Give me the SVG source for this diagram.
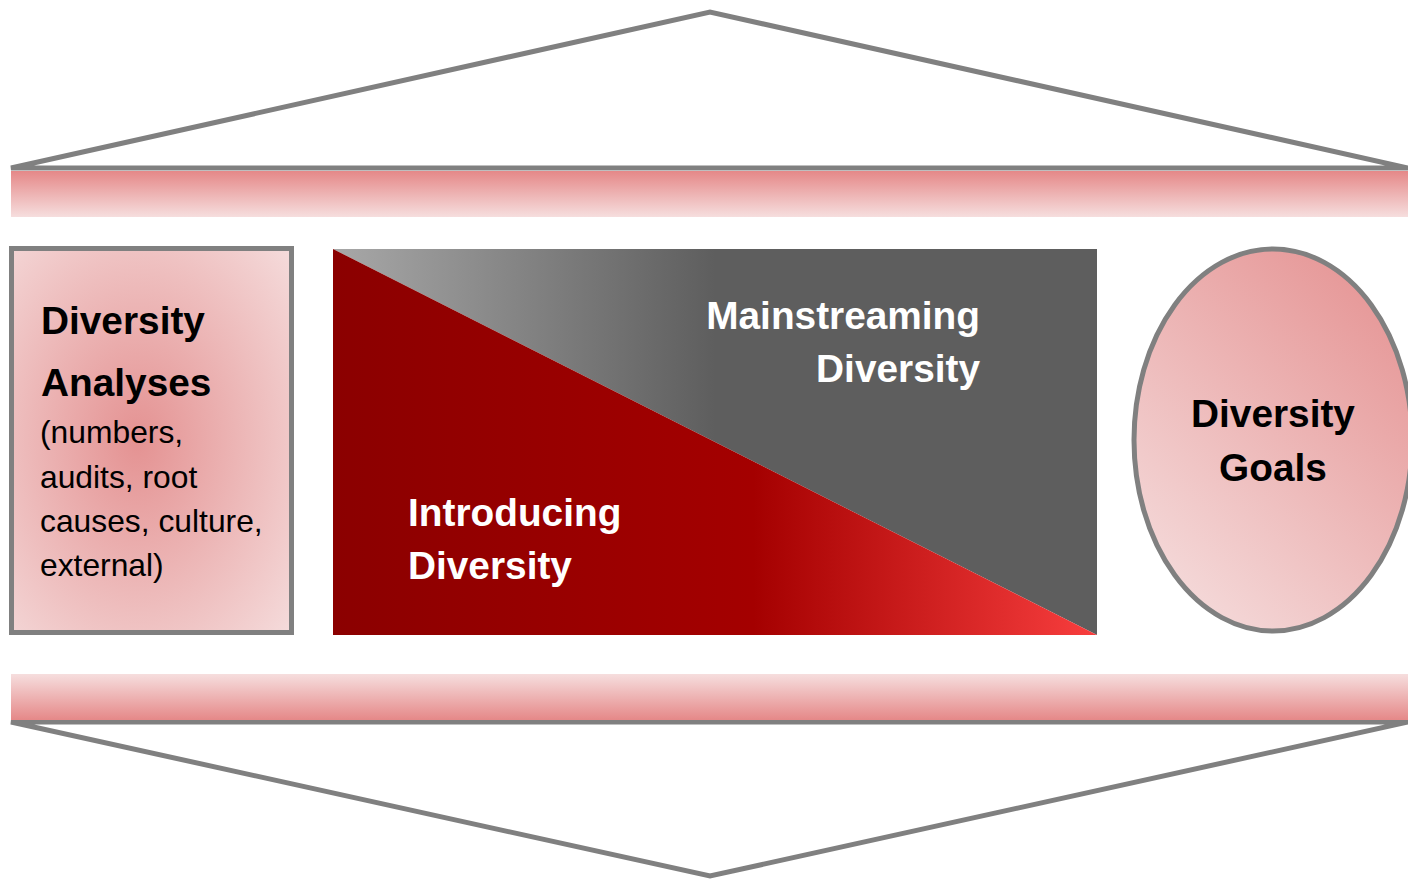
<svg xmlns="http://www.w3.org/2000/svg" width="1408" height="879" viewBox="0 0 1408 879">
  <defs>
    <linearGradient id="barTop" x1="0" y1="0" x2="0" y2="1">
      <stop offset="0" stop-color="#e58888"/>
      <stop offset="1" stop-color="#f6dede"/>
    </linearGradient>
    <linearGradient id="barBottom" x1="0" y1="0" x2="0" y2="1">
      <stop offset="0" stop-color="#f6dede"/>
      <stop offset="1" stop-color="#e58888"/>
    </linearGradient>
    <radialGradient id="boxFill" cx="0.45" cy="0.5" r="0.75" gradientUnits="objectBoundingBox">
      <stop offset="0" stop-color="#e49292"/>
      <stop offset="1" stop-color="#f5dcdc"/>
    </radialGradient>
    <linearGradient id="ovalFill" x1="1" y1="0" x2="0.3" y2="1">
      <stop offset="0" stop-color="#e48e8e"/>
      <stop offset="1" stop-color="#f4d8d8"/>
    </linearGradient>
    <linearGradient id="grayFill" gradientUnits="userSpaceOnUse" x1="333" y1="0" x2="1097" y2="0">
      <stop offset="0" stop-color="#a8a8a8"/>
      <stop offset="0.5" stop-color="#5e5e5e"/>
      <stop offset="1" stop-color="#5e5e5e"/>
    </linearGradient>
    <linearGradient id="redFill" gradientUnits="userSpaceOnUse" x1="333" y1="0" x2="1097" y2="0">
      <stop offset="0" stop-color="#8b0000"/>
      <stop offset="0.55" stop-color="#a40000"/>
      <stop offset="1" stop-color="#f83e3e"/>
    </linearGradient>
    <style>
      .frame { fill: #ffffff; stroke: #808080; stroke-width: 5; stroke-linejoin: miter; }
      .outline { stroke: #808080; stroke-width: 5; }
      .bold { font-family: "Liberation Sans", Arial, sans-serif; font-weight: bold; font-size: 38.8px; }
      .plain { font-family: "Liberation Sans", Arial, sans-serif; font-size: 31.8px; }
      .dark { fill: #000000; }
      .light { fill: #ffffff; }
    </style>
  </defs>

  <!-- roof and base triangles -->
  <g id="roof">
    <polygon class="frame" points="11,168 710,12 1408,168"/>
    <rect x="11" y="171" width="1397" height="46" fill="url(#barTop)"/>
  </g>
  <g id="base">
    <polygon class="frame" points="11,722 710,876 1408,722"/>
    <rect x="11" y="674" width="1397" height="46" fill="url(#barBottom)"/>
  </g>

  <!-- left box -->
  <g id="analyses">
    <rect class="outline" x="11.5" y="248.5" width="280" height="384" fill="url(#boxFill)"/>
    <text class="bold dark" x="41" y="334">Diversity</text>
    <text class="bold dark" x="41" y="396">Analyses</text>
    <text class="plain dark" x="40" y="443">(numbers,</text>
    <text class="plain dark" x="40" y="488">audits, root</text>
    <text class="plain dark" x="40" y="532">causes, culture,</text>
    <text class="plain dark" x="40" y="576">external)</text>
  </g>

  <!-- central split panel -->
  <g id="mainstreaming">
    <polygon points="333,249 1097,249 1097,635" fill="url(#grayFill)"/>
    <text class="bold light" x="980" y="329" text-anchor="end">Mainstreaming</text>
    <text class="bold light" x="980" y="382" text-anchor="end">Diversity</text>
  </g>
  <g id="introducing">
    <polygon points="333,249 1097,635 333,635" fill="url(#redFill)"/>
    <text class="bold light" x="408" y="526">Introducing</text>
    <text class="bold light" x="408" y="579">Diversity</text>
  </g>

  <!-- right oval -->
  <g id="goals">
    <ellipse class="outline" cx="1273" cy="440" rx="139" ry="191" fill="url(#ovalFill)"/>
    <text class="bold dark" x="1273" y="427" text-anchor="middle">Diversity</text>
    <text class="bold dark" x="1273" y="481" text-anchor="middle">Goals</text>
  </g>

  <g id="connectors"/>
</svg>
